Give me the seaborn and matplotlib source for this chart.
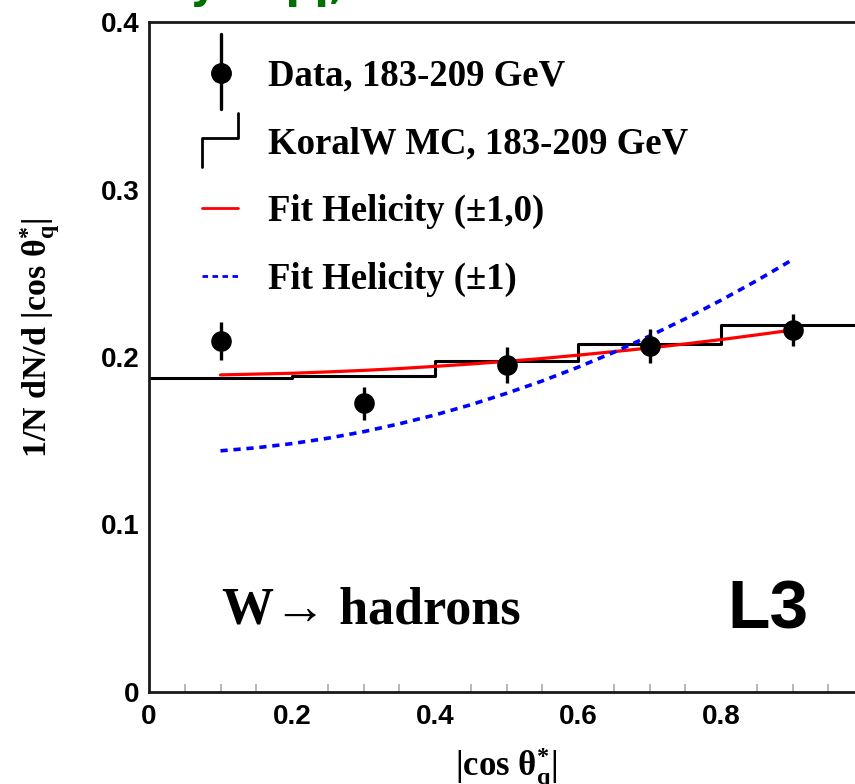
import numpy as np
import pandas as pd
import matplotlib
matplotlib.use("Agg")
import matplotlib.pyplot as plt
import seaborn as sns
from matplotlib.legend_handler import HandlerBase
from matplotlib.lines import Line2D

# ---------------- data ----------------
data_x = [0.1, 0.3, 0.5, 0.7, 0.9]
data_y = [0.2097, 0.1723, 0.1952, 0.2066, 0.2163]
data_err = [0.0112, 0.0100, 0.0105, 0.0103, 0.0096]

mc_edges = [0.0, 0.2, 0.4, 0.6, 0.8, 1.0]
mc_values = [0.1876, 0.1887, 0.1975, 0.2080, 0.2190]

fit_x = [0.10, 0.15, 0.20, 0.25, 0.30, 0.35, 0.40, 0.45, 0.50,
         0.55, 0.60, 0.65, 0.70, 0.75, 0.80, 0.85, 0.90]
fit_hel_10 = [0.1893, 0.1898, 0.1903, 0.1911, 0.1920, 0.1931, 0.1944, 0.1958, 0.1974,
              0.1991, 0.2011, 0.2032, 0.2054, 0.2078, 0.2104, 0.2132, 0.2161]
fit_hel_1 = [0.1440, 0.1458, 0.1483, 0.1515, 0.1554, 0.1601, 0.1654, 0.1715, 0.1783,
             0.1857, 0.1939, 0.2028, 0.2125, 0.2228, 0.2339, 0.2456, 0.2581]

x_ticks = [0, 0.2, 0.4, 0.6, 0.8]
x_ticklabels = ["0", "0.2", "0.4", "0.6", "0.8"]
y_ticks = [0, 0.1, 0.2, 0.3, 0.4]
y_ticklabels = ["0", "0.1", "0.2", "0.3", "0.4"]

legend_labels = ["Data, 183-209 GeV", "KoralW MC, 183-209 GeV",
                 "Fit Helicity (\u00b11,0)", "Fit Helicity (\u00b11)"]

# ---------------- style ----------------
sns.set_theme(style="white")
plt.rcParams["font.family"] = ["Liberation Serif", "DejaVu Serif"]
plt.rcParams["text.color"] = "black"
plt.rcParams["axes.labelcolor"] = "black"
plt.rcParams["xtick.labelcolor"] = "black"
plt.rcParams["ytick.labelcolor"] = "black"
plt.rcParams["mathtext.fontset"] = "custom"
plt.rcParams["mathtext.rm"] = "Liberation Serif"
plt.rcParams["mathtext.it"] = "Liberation Serif"
plt.rcParams["mathtext.bf"] = "Liberation Serif:bold"

fig = plt.figure(figsize=(8.55, 7.84), dpi=100)
L, R, T, B = 149, 864, 22, 692
W, H = 855, 784
ax = fig.add_axes([L / W, (H - B) / H, (R - L) / W, (B - T) / H])
ax.set_facecolor("white")

# MC histogram
mc_centers = [(a + b) / 2 for a, b in zip(mc_edges[:-1], mc_edges[1:])]
sns.histplot(x=mc_centers, weights=mc_values, bins=mc_edges, element="step",
             fill=False, color="black", linewidth=2.2, ax=ax)

# Fits
fits = pd.DataFrame({"x": fit_x, "h10": fit_hel_10, "h1": fit_hel_1})
sns.lineplot(data=fits, x="x", y="h10", color="red", linewidth=2.3, ax=ax)
sns.lineplot(data=fits, x="x", y="h1", color="blue", linewidth=2.6,
             linestyle=(0, (2.0, 1.6)), ax=ax)

# Data
ax.errorbar(data_x, data_y, yerr=data_err, fmt="none", ecolor="black",
            elinewidth=2.4, capsize=0, zorder=4)
dd = pd.DataFrame({"x": data_x, "y": data_y})
sns.scatterplot(data=dd, x="x", y="y", color="black", s=220, marker="o",
                edgecolor="black", linewidth=0, zorder=5, ax=ax)

ax.set_xlim(0, 1)
ax.set_ylim(0, 0.4)

# axes styling
for s in ["left", "bottom", "top"]:
    ax.spines[s].set_color("#1a1a1a")
    ax.spines[s].set_linewidth(2.0)
ax.spines["right"].set_visible(False)

ax.set_xticks(x_ticks)
ax.set_xticklabels(x_ticklabels)
ax.set_yticks(y_ticks)
ax.set_yticklabels(y_ticklabels)
ax.set_xticks(np.arange(0, 1.0001, 0.05), minor=True)
ax.tick_params(axis="both", which="major", direction="in", length=12,
               width=1.5, color="#aaaaaa", labelsize=20, labelcolor="black")
ax.tick_params(axis="x", which="minor", direction="in", length=6,
               width=1.2, color="#aaaaaa", bottom=True)
ax.tick_params(axis="x", which="major", pad=9)
ax.tick_params(axis="y", which="major", pad=7)
for lab in ax.get_xticklabels() + ax.get_yticklabels():
    lab.set_fontfamily(["Liberation Sans", "DejaVu Sans"])
    lab.set_fontweight("bold")

ax.set_xlabel(r"|cos $\mathdefault{\theta^{*}_{q}}$|", fontsize=25,
              fontweight="bold")
ax.set_ylabel(r"1/N dN/d |cos $\mathdefault{\theta^{*}_{q}}$|", fontsize=24.5,
              fontweight="bold")
ax.xaxis.label.set_va("baseline")
ax.xaxis.set_label_coords(0.50, -0.124)
ax.yaxis.set_label_coords(-0.121, 0.528)


# ---------------- legend ----------------
class DataHandler(HandlerBase):
    def create_artists(self, legend, orig, xd, yd, width, height, fontsize, trans):
        cx = xd + width / 2 + 1
        cy = yd + height / 2
        bar = Line2D([cx, cx], [cy - 26, cy + 28], color="black", lw=2.4,
                     transform=trans)
        mk = Line2D([cx], [cy], marker="o", markersize=14, color="black",
                    transform=trans, linestyle="none")
        return [bar, mk]


class MCHandler(HandlerBase):
    def create_artists(self, legend, orig, xd, yd, width, height, fontsize, trans):
        x0 = xd
        x1 = xd + width
        cy = yd + height / 2
        ln = Line2D([x0, x0, x1, x1], [cy - 19, cy + 2, cy + 2, cy + 20],
                    color="black", lw=2.0, transform=trans)
        return [ln]


h_data = Line2D([], [], color="black")
h_mc = Line2D([], [], color="black")
h_red = Line2D([], [], color="red", lw=2.0)
h_blue = Line2D([], [], color="blue", lw=2.0, linestyle=(0, (2.0, 1.6)))
leg = ax.legend([h_data, h_mc, h_red, h_blue], legend_labels,
                handler_map={h_data: DataHandler(), h_mc: MCHandler()},
                loc="upper left", bbox_to_anchor=(0.074, 0.9456),
                frameon=False, borderpad=0, borderaxespad=0,
                handlelength=0.98, handletextpad=0.815, labelspacing=0.89,
                prop={"family": "Liberation Serif", "weight": "bold", "size": 26.5})

# annotations
ax.text(0.102, 0.121, "W\u2192 hadrons", transform=ax.transAxes,
        fontsize=37.5, fontweight="bold", family="Liberation Serif",
        ha="left", va="center")
ax.text(0.865, 0.122, "L3", transform=ax.transAxes, fontsize=50,
        fontweight="bold", family="Liberation Sans", ha="center", va="center")

# partially visible green title (cut at top of the figure, as in the original)
fig.text(190 / W, 1 + 2 / H, "y", color="#007000", fontsize=30,
         fontweight="bold", family="DejaVu Sans", ha="left", va="baseline")
fig.text(269 / W, 1 + 2 / H, "qq,", color="#007000", fontsize=30,
         fontweight="bold", family="DejaVu Sans", ha="left", va="baseline")

fig.savefig("out.png", dpi=100)
